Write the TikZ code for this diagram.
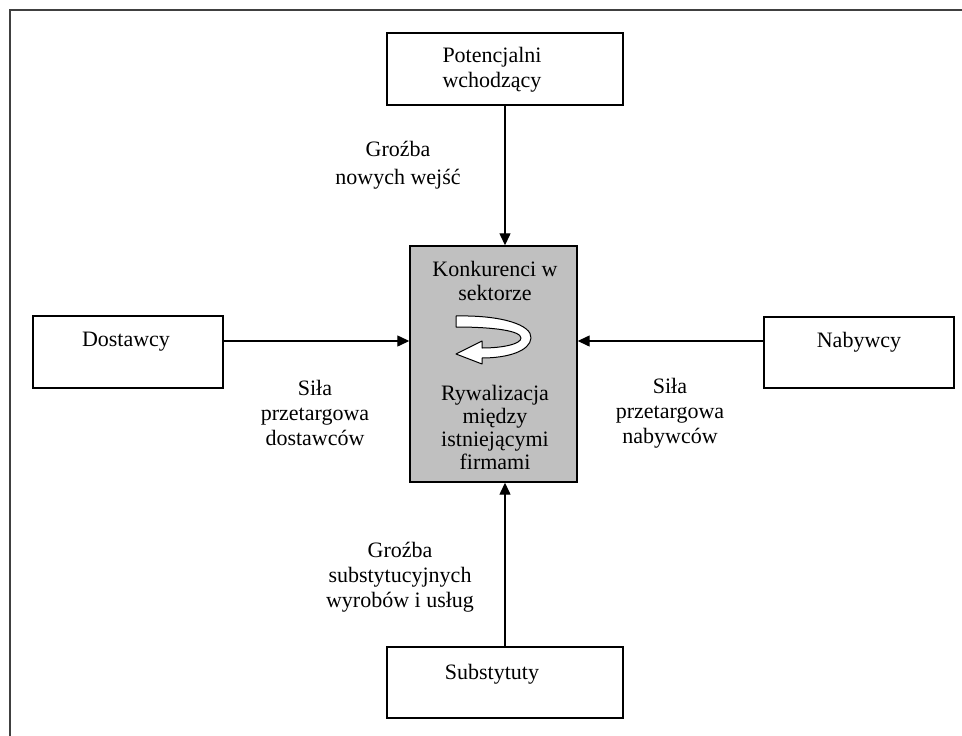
\documentclass[tikz,border=0pt]{standalone}
\usepackage{fontspec}
\setmainfont{Liberation Serif}
\usetikzlibrary{arrows.meta}
\definecolor{framegray}{HTML}{404040}
\definecolor{boxgray}{HTML}{C0C0C0}
\tikzset{
  frameline/.style={draw=framegray, line width=2pt},
  sidebox/.style={draw=black, line width=1.4pt, fill=white, inner sep=0pt},
  centerbox/.style={draw=black, line width=1.4pt, fill=boxgray, inner sep=0pt},
  txt/.style={font=\fontsize{22}{25}\selectfont, align=center, inner sep=0pt, text=black},
  arr/.style={draw=black, line width=1.3pt, -{Triangle[length=12pt,width=11pt]}},
}
\begin{document}
\begin{tikzpicture}[x=1pt,y=-1pt]
\useasboundingbox (0,0) rectangle (962,736);
% outer frame (cropped on right and bottom)
\draw[frameline] (9.5,740) -- (9.5,9.5) -- (966,9.5);

% boxes
\node[sidebox, minimum width=236pt, minimum height=72pt] (top) at (505,69) {};
\node[centerbox, minimum width=167pt, minimum height=236pt] (center) at (493.5,364) {};
\node[sidebox, minimum width=190pt, minimum height=72pt] (dost) at (128,352) {};
\node[sidebox, minimum width=190pt, minimum height=71pt] (naby) at (859,352.5) {};
\node[sidebox, minimum width=236pt, minimum height=71pt] (subs) at (505,682.5) {};

% box texts
\node[txt] (toptxt) at (492,70) {Potencjalni\\wchodzący};
\node[txt] (dosttxt) at (126,342) {Dostawcy};
\node[txt] (nabytxt) at (859,342) {Nabywcy};
\node[txt] (substxt) at (492,674) {Substytuty};
\node[txt, font=\fontsize{22}{24}\selectfont] (konk) at (495,281) {Konkurenci w\\sektorze};
\node[txt, font=\fontsize{22}{23}\selectfont] (ryw) at (495,427) {Rywalizacja\\między\\istniejącymi\\firmami};

% labels
\node[txt, font=\fontsize{22}{28}\selectfont] (lnew) at (398,165) {Groźba\\nowych wejść};
\node[txt] (ldost) at (315,413) {Siła\\przetargowa\\dostawców};
\node[txt] (lnaby) at (670,413) {Siła\\przetargowa\\nabywców};
\node[txt] (lsubs) at (400,577) {Groźba\\substytucyjnych\\wyrobów i usług};

% row coordinate for horizontal arrows
\coordinate (rowy) at (0,341);

% arrows
\draw[arr] (top.south) -- (top.south |- center.north);
\draw[arr] (subs.north) -- (subs.north |- center.south);
\draw[arr] (dost.east |- rowy) -- (center.west |- rowy);
\draw[arr] (naby.west |- rowy) -- (center.east |- rowy);

% rivalry U-turn block arrow
\draw[black, line width=1pt, fill=white, line join=round]
  (456,316) .. controls (502,315) and (532,325) .. (531,338)
  .. controls (530,351) and (508,358) .. (482,358)
  -- (482,364) -- (456,354) -- (482,341) -- (482,348)
  .. controls (503,348) and (521,344) .. (521,338)
  .. controls (521,331) and (495,327) .. (456,327) -- cycle;
\end{tikzpicture}
\end{document}
